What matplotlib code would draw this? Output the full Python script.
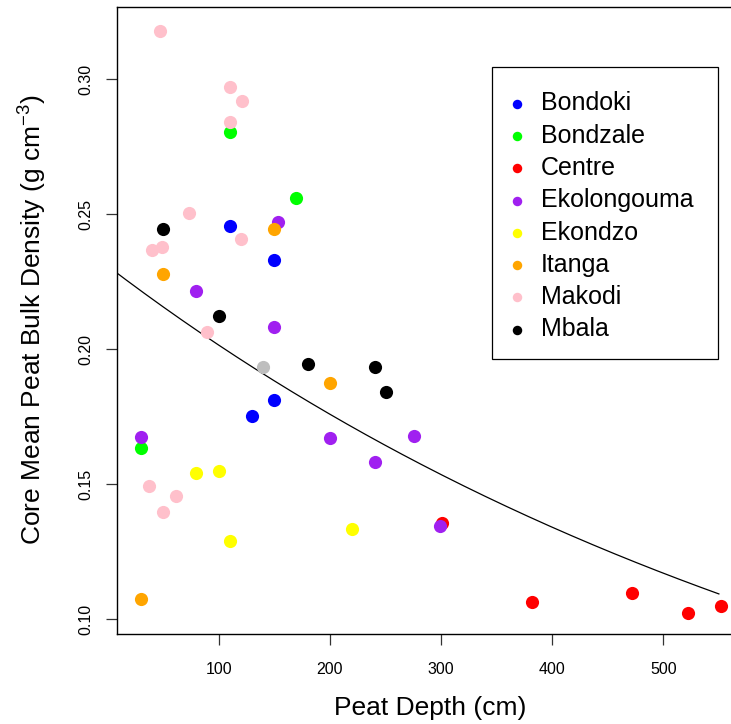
import numpy as np
import matplotlib
matplotlib.use("Agg")
import matplotlib.pyplot as plt
from matplotlib.patches import Rectangle

plt.rcParams['font.family'] = ['Liberation Sans', 'DejaVu Sans']
plt.rcParams['mathtext.fontset'] = 'custom'
plt.rcParams['mathtext.rm'] = 'Liberation Sans'
plt.rcParams['mathtext.it'] = 'Liberation Sans:italic'

# site colours (R colour names)
sites = ['Bondoki', 'Bondzale', 'Centre', 'Ekolongouma', 'Ekondzo', 'Itanga', 'Makodi', 'Mbala']
site_colors = ['#0000FF', '#00FF00', '#FF0000', '#A020F0', '#FFFF00', '#FFA500', '#FFC0CB', '#000000']

# core peat depth (cm) and mean bulk density (g cm-3) per site
bondoki_depth = [110, 150, 150, 130]
bondoki_bd = [0.2456, 0.2331, 0.1812, 0.1754]

bondzale_depth = [110, 170, 30]
bondzale_bd = [0.2804, 0.2559, 0.1633]

centre_depth = [301, 382, 472, 522, 552]
centre_bd = [0.1356, 0.1065, 0.1096, 0.1023, 0.1050]

ekolongouma_depth = [153, 80, 150, 200, 30, 276, 241, 299]
ekolongouma_bd = [0.2473, 0.2217, 0.2084, 0.1670, 0.1675, 0.1680, 0.1584, 0.1346]

ekondzo_depth = [80, 100, 110, 220]
ekondzo_bd = [0.1541, 0.1549, 0.1291, 0.1333]

itanga_depth = [150, 50, 200, 30]
itanga_bd = [0.2447, 0.2279, 0.1875, 0.1074]

makodi_depth = [47, 110, 121, 110, 73, 120, 49, 40, 90, 37, 62, 50]
makodi_bd = [0.3180, 0.2971, 0.2919, 0.2843, 0.2506, 0.2410, 0.2380, 0.2369,
             0.2064, 0.1495, 0.1458, 0.1398]

mbala_depth = [50, 100, 180, 241, 251]
mbala_bd = [0.2447, 0.2122, 0.1947, 0.1934, 0.1842]

# one core without a site colour
other_depth = [140]
other_bd = [0.1933]

site_depths = [bondoki_depth, bondzale_depth, centre_depth, ekolongouma_depth,
               ekondzo_depth, itanga_depth, makodi_depth, mbala_depth]
site_bds = [bondoki_bd, bondzale_bd, centre_bd, ekolongouma_bd,
            ekondzo_bd, itanga_bd, makodi_bd, mbala_bd]

# exponential fit: bd = a * exp(-b * depth)
fit_a = 0.2309
fit_b = 0.001359
fit_x = np.linspace(0, 550, 200)

fig = plt.figure(figsize=(7.31, 7.24), dpi=100)
W, H = 731, 724
left, right, top, bottom = 117, 742, 7, 634
ax = fig.add_axes([left / W, 1 - bottom / H, (right - left) / W, (bottom - top) / H])

ax.scatter(other_depth, other_bd, s=90, color='#BEBEBE', linewidths=0, zorder=3)
for name, col, xs, ys in zip(sites, site_colors, site_depths, site_bds):
    ax.scatter(xs, ys, s=90, color=col, linewidths=0, zorder=3, label=name)

ax.plot(fit_x, fit_a * np.exp(-fit_b * fit_x), color='black', lw=0.9, zorder=2)

ax.set_xlim(8.6, 570.8)
ax.set_ylim(0.0945, 0.3268)
ax.set_xticks([100, 200, 300, 400, 500])
ax.set_yticks([0.10, 0.15, 0.20, 0.25, 0.30])
ax.set_yticklabels(['0.10', '0.15', '0.20', '0.25', '0.30'], rotation=90, va='center')
ax.tick_params(axis='both', direction='out', length=8, width=0.9, labelsize=11.5, color='#333333')
ax.tick_params(axis='x', pad=12)
ax.tick_params(axis='y', pad=9)
for sp in ax.spines.values():
    sp.set_linewidth(1.0)

fig.text(430 / W, 1 - 708 / H, 'Peat Depth (cm)', ha='center', va='center', fontsize=19)
fig.text(33 / W, 1 - 320 / H, r'Core Mean Peat Bulk Density (g cm$^{-3}$)',
         ha='center', va='center', rotation=90, fontsize=19)

# legend box drawn separately so its size follows R's legend()
box = Rectangle((491.7 / W, 1 - 359 / H), (718 - 491.7) / W, (359 - 66.7) / H,
                transform=fig.transFigure, facecolor='white', edgecolor='black',
                lw=0.9, zorder=5)
fig.patches.append(box)

leg = ax.legend(loc='upper left', bbox_to_anchor=(509.2 / W, 1 - 91.5 / H),
                bbox_transform=fig.transFigure, borderaxespad=0, borderpad=0,
                fontsize=18, frameon=False, markerscale=0.72,
                handlelength=0.6, handletextpad=0.66, labelspacing=0.33,
                scatterpoints=1)
leg.set_zorder(6)
fig.legends.append(leg)
ax.get_legend().remove()

fig.savefig('out.png', dpi=100)
